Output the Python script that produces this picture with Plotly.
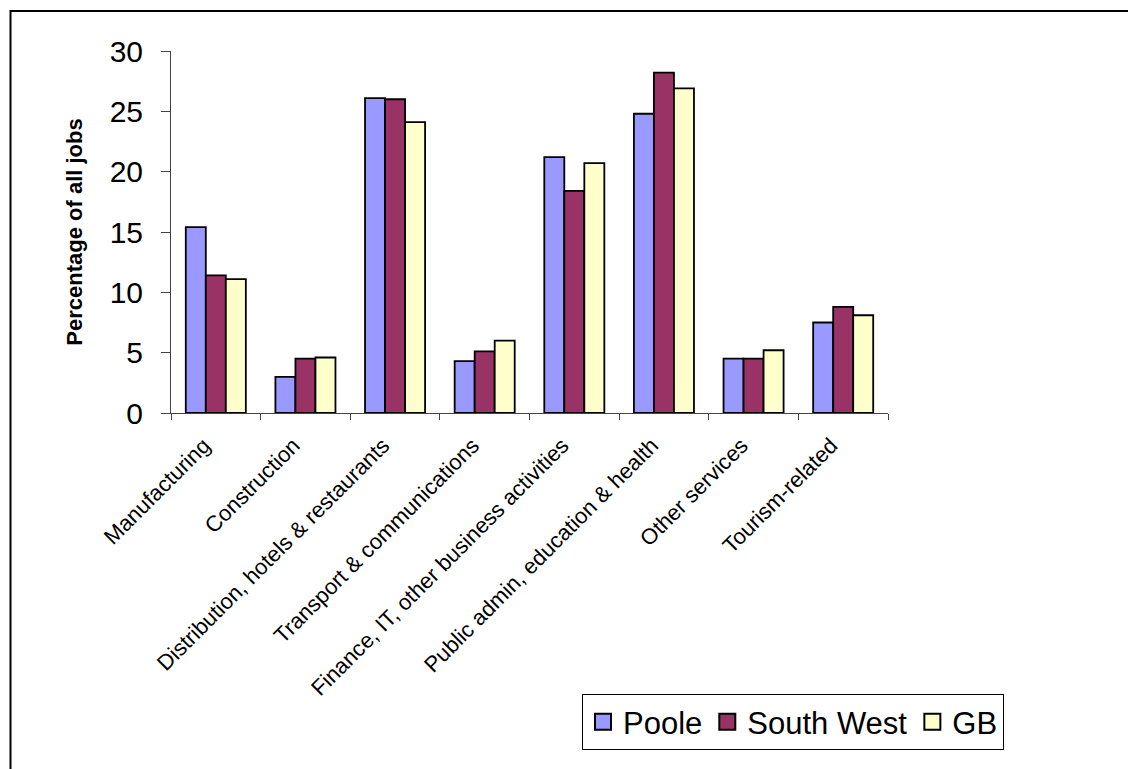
import plotly.graph_objects as go

# Share of all jobs by industry (%)
categories = [
    "Manufacturing",
    "Construction",
    "Distribution, hotels & restaurants",
    "Transport & communications",
    "Finance, IT, other business activities",
    "Public admin, education & health",
    "Other services",
    "Tourism-related",
]
poole = [15.4, 3.0, 26.1, 4.3, 21.2, 24.8, 4.5, 7.5]
south_west = [11.4, 4.5, 26.0, 5.1, 18.4, 28.2, 4.5, 8.8]
gb = [11.1, 4.6, 24.1, 6.0, 20.7, 26.9, 5.2, 8.1]

series_names = ["Poole", "South West", "GB"]
series_values = [poole, south_west, gb]
series_colors = ["#9999FF", "#993366", "#FFFFCC"]

y_ticks = [0, 5, 10, 15, 20, 25, 30]

FONT = "Arial, Liberation Sans, sans-serif"
W, H = 1128, 769
ML, MR, MT, MB = 171, 240, 51, 356
PW, PH = W - ML - MR, H - MT - MB

fig = go.Figure()
for name, vals, col in zip(series_names, series_values, series_colors):
    fig.add_trace(go.Bar(
        x=categories, y=vals, name=name, showlegend=False,
        marker=dict(color=col, line=dict(color="black", width=1.8)),
    ))
    # legend entry with a larger square swatch
    fig.add_trace(go.Scatter(
        x=[None], y=[None], mode="markers", name=name,
        marker=dict(symbol="square", size=16, color=col,
                    line=dict(color="black", width=2)),
    ))

# outer chart frame
def px_x(px):
    return (px - ML) / PW

def px_y(py):
    return (H - MB - py) / PH

fig.add_shape(type="rect", xref="paper", yref="paper",
              x0=px_x(10.5), x1=px_x(1140), y0=px_y(780), y1=px_y(11),
              line=dict(color="black", width=2), fillcolor="rgba(0,0,0,0)")

fig.update_layout(
    width=W, height=H,
    margin=dict(l=ML, r=MR, t=MT, b=MB, autoexpand=False),
    paper_bgcolor="white", plot_bgcolor="white",
    barmode="group", bargap=0.33, bargroupgap=0,
    font=dict(family=FONT, color="black"),
    showlegend=True,
    legend=dict(
        orientation="h", x=px_x(582), y=px_y(694),
        xanchor="left", yanchor="top",
        bordercolor="black", borderwidth=1,
        font=dict(size=31, family=FONT),
        bgcolor="white", itemwidth=30,
    ),
    xaxis=dict(
        type="category", tickson="boundaries",
        showline=True, linecolor="#444", linewidth=1,
        ticks="outside", ticklen=6, tickcolor="#444",
        tickangle=-45, tickfont=dict(size=22, family=FONT),
        ticklabelstandoff=10, ticklabelshift=-12,
        showgrid=False, zeroline=False,
    ),
    yaxis=dict(
        range=[0, 30], tickvals=y_ticks,
        showline=True, linecolor="#444", linewidth=1,
        ticks="outside", ticklen=9, tickcolor="#444",
        ticklabelstandoff=12,
        tickfont=dict(size=30, family=FONT),
        showgrid=False, zeroline=False,
        title=dict(text="<b>Percentage of all jobs</b>",
                   font=dict(size=22, family=FONT), standoff=20),
    ),
)

fig.write_html("out.html")
